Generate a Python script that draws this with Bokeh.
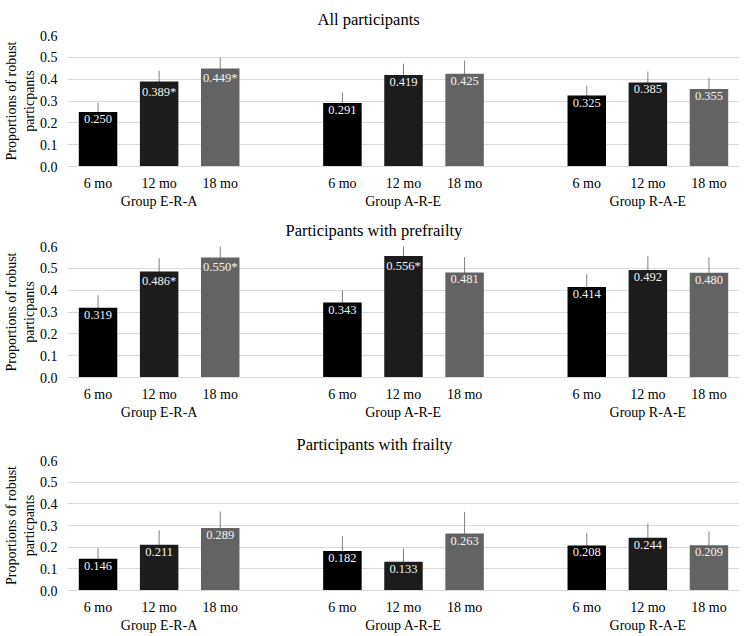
from bokeh.plotting import figure
from bokeh.models import (ColumnDataSource, Whisker, Range1d, FixedTicker,
                          NumeralTickFormatter, LinearAxis)
from bokeh.layouts import column
from bokeh.embed import file_html
from bokeh.resources import INLINE
from bokeh.core.properties import value

groups = ["Group E-R-A", "Group A-R-E", "Group R-A-E"]
months = ["6 mo", "12 mo", "18 mo"]
month_colors = ["#000000", "#1c1c1c", "#636363"]

titles = ["All participants", "Participants with prefrailty", "Participants with frailty"]

# values per panel, ordered group by group, month by month
all_vals = [0.250, 0.389, 0.449, 0.291, 0.419, 0.425, 0.325, 0.385, 0.355]
all_marks = ["", "*", "*", "", "", "", "", "", ""]
all_err = [0.042, 0.049, 0.050, 0.047, 0.052, 0.060, 0.045, 0.050, 0.051]

pre_vals = [0.319, 0.486, 0.550, 0.343, 0.556, 0.481, 0.414, 0.492, 0.480]
pre_marks = ["", "*", "*", "", "*", "", "", "", ""]
pre_err = [0.058, 0.060, 0.060, 0.055, 0.055, 0.070, 0.060, 0.065, 0.071]

fra_vals = [0.146, 0.211, 0.289, 0.182, 0.133, 0.263, 0.208, 0.244, 0.209]
fra_marks = ["", "", "", "", "", "", "", "", ""]
fra_err = [0.051, 0.067, 0.076, 0.069, 0.061, 0.100, 0.056, 0.065, 0.063]

y_ticks = [0.0, 0.1, 0.2, 0.3, 0.4, 0.5, 0.6]

panels = [
    (titles[0], all_vals, all_marks, all_err),
    (titles[1], pre_vals, pre_marks, pre_err),
    (titles[2], fra_vals, fra_marks, fra_err),
]

SERIF = "'Liberation Serif', 'Times New Roman', serif"
tops = [29, 32, 38]
title_offsets = [250, 218, 229]

# slot layout: each group takes 4 slots (3 bars + 1 gap)
SLOTS = len(months) + 1
xpos = [gi * SLOTS + mi for gi in range(len(groups)) for mi in range(len(months))]
group_centers = [gi * SLOTS + (len(months) - 1) / 2 for gi in range(len(groups))]
month_labels = {float(gi * SLOTS + mi): months[mi]
                for gi in range(len(groups)) for mi in range(len(months))}
group_labels = {float(c): g for c, g in zip(group_centers, groups)}

figs = []
for k, (title, vals, marks, errs) in enumerate(panels):
    src = ColumnDataSource(dict(
        x=xpos,
        top=vals,
        color=[month_colors[i % len(months)] for i in range(len(vals))],
        label=["%.3f%s" % (v, s) for v, s in zip(vals, marks)],
        upper=[v + e for v, e in zip(vals, errs)],
        lower=[v - e for v, e in zip(vals, errs)],
    ))
    p = figure(x_range=Range1d(-0.5, xpos[-1] + 0.5),
               y_range=Range1d(0, 0.6),
               frame_width=672, frame_height=131 if k < 2 else 130,
               output_backend="svg", toolbar_location=None,
               min_border_left=0, min_border_right=0,
               min_border_top=tops[k], min_border_bottom=0,
               x_axis_location=None)
    p.title.text = title
    p.title.align = "left"
    p.title.offset = title_offsets[k]
    p.title.text_font = SERIF
    p.title.text_font_size = "16.5px"
    p.title.text_font_style = "normal"
    p.title.text_color = "#000000"
    p.title.standoff = 14

    p.vbar(x="x", top="top", width=0.63, source=src, fill_color="color", line_color=None)
    w = Whisker(source=src, base="x", upper="upper", lower="lower",
                line_color="#808080", line_width=1, upper_head=None, lower_head=None)
    p.add_layout(w)
    p.text(x="x", y="top", text="label", source=src, text_align="center",
           text_baseline="top", y_offset=3, text_color="#f2f2f2",
           text_font=value(SERIF), text_font_size="12.5px")

    p.outline_line_color = None
    p.background_fill_color = "white"
    p.border_fill_color = "white"

    for g in p.grid:
        if g.dimension == 0:
            g.grid_line_color = None
        else:
            g.grid_line_color = "#d9d9d9"
            g.grid_line_width = 1

    p.yaxis.ticker = FixedTicker(ticks=y_ticks)
    p.yaxis.formatter = NumeralTickFormatter(format="0.0")
    p.yaxis.axis_line_color = None
    p.yaxis.major_tick_line_color = None
    p.yaxis.minor_tick_line_color = None
    p.yaxis.major_tick_out = 0
    p.yaxis.major_tick_in = 0
    p.yaxis.major_label_text_font = SERIF
    p.yaxis.major_label_text_font_size = "14px"
    p.yaxis.major_label_text_color = "#000000"
    p.yaxis.major_label_standoff = 10
    p.yaxis.axis_label = "Proportions of robust\nparticpants"
    p.yaxis.axis_label_text_font = SERIF
    p.yaxis.axis_label_text_font_size = "14px"
    p.yaxis.axis_label_text_font_style = "normal"
    p.yaxis.axis_label_text_color = "#000000"
    p.yaxis.axis_label_standoff = 0

    ax1 = LinearAxis(ticker=FixedTicker(ticks=xpos),
                     major_label_overrides=month_labels)
    ax1.axis_line_color = "#d9d9d9"
    ax1.major_tick_line_color = None
    ax1.minor_tick_line_color = None
    ax1.major_tick_out = 0
    ax1.major_tick_in = 0
    ax1.major_label_text_font = SERIF
    ax1.major_label_text_font_size = "14px"
    ax1.major_label_text_color = "#000000"
    ax1.major_label_standoff = 9

    ax2 = LinearAxis(ticker=FixedTicker(ticks=group_centers),
                     major_label_overrides=group_labels)
    ax2.axis_line_color = None
    ax2.major_tick_line_color = None
    ax2.minor_tick_line_color = None
    ax2.major_tick_out = 0
    ax2.major_tick_in = 0
    ax2.major_label_text_font = SERIF
    ax2.major_label_text_font_size = "14px"
    ax2.major_label_text_color = "#000000"
    ax2.major_label_standoff = 0

    p.add_layout(ax1, "below")
    p.add_layout(ax2, "below")
    figs.append(p)

layout = column(*figs, spacing=0)
open("out.html", "w").write(file_html(layout, INLINE))
